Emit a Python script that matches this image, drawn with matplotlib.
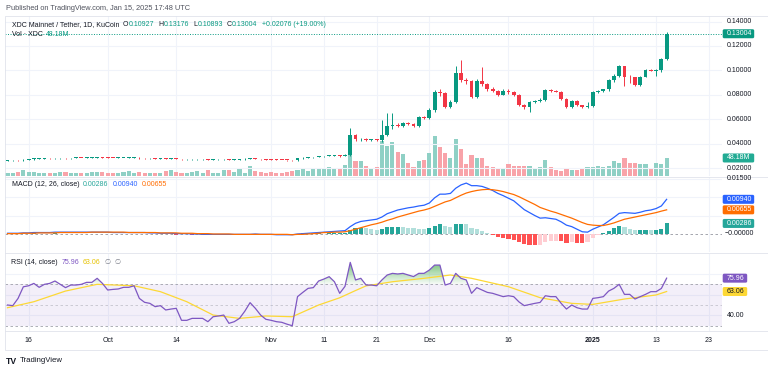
import numpy as np
import pandas as pd
import matplotlib
matplotlib.use('Agg')
import matplotlib.pyplot as plt
from matplotlib.colors import LinearSegmentedColormap
from matplotlib.path import Path
from matplotlib.patches import FancyBboxPatch, Rectangle
from matplotlib.transforms import IdentityTransform

plt.rcParams['font.family'] = ['Liberation Sans', 'DejaVu Sans']

# ---------------- data ----------------
dates = pd.date_range('2024-09-12', '2025-01-15', freq='D')

open_ = [.0261, .0262, .0264, .0263, .0268, .0272, .0276, .0277, .0279, .0278,
         .0280, .0281, .0280, .0282, .0283, .0282, .0283, .0284, .0288, .0286,
         .0283, .0282, .0283, .0283, .0284, .0285, .0280, .0278, .0278, .0277,
         .0277, .0275, .0276, .0274, .0270, .0270, .0271, .0271, .0271, .0268,
         .0270, .0271, .0272, .0267, .0268, .0270, .0274, .0278, .0275, .0271,
         .0268, .0267, .0266, .0265, .0264, .0262, .0278, .0283, .0287, .0290,
         .0295, .0298, .0302, .0303, .0298,
         .0307, .0470, .0435, .0440, .0430, .0432, .0428, .0470, .0547, .0552,
         .0547, .0566, .0558, .0547, .0615, .0607, .0675, .0820, .0812, .0703,
         .0744, .0976, .0921, .0913, .0785, .0916, .0886, .0845, .0831, .0800,
         .0834, .0820, .0798, .0716, .0700, .0744, .0752, .0757, .0839, .0834,
         .0826, .0763, .0697, .0752, .0716, .0697, .0708, .0826, .0834, .0845,
         .0921, .0957, .1036, .0946, .0943, .0880, .0949, .1003, .0998, .1003,
         .10927]
high = [.0265, .0267, .0267, .0272, .0276, .0280, .0281, .0283, .0282, .0284,
        .0285, .0284, .0286, .0287, .0286, .0287, .0288, .0292, .0290, .0288,
        .0286, .0287, .0286, .0288, .0289, .0287, .0283, .0282, .0281, .0281,
        .0279, .0280, .0279, .0276, .0274, .0275, .0274, .0275, .0273, .0273,
        .0275, .0276, .0274, .0272, .0274, .0279, .0285, .0281, .0277, .0274,
        .0271, .0270, .0269, .0268, .0267, .0282, .0287, .0291, .0294, .0300,
        .0302, .0307, .0308, .0306, .0311,
        .0530, .0475, .0450, .0448, .0440, .0438, .0590, .0650, .0650, .0565,
        .0580, .0575, .0565, .0625, .0630, .0690, .0840, .0845, .0825, .0760,
        .1036, .1085, .0940, .0920, .0930, .1027, .0895, .0860, .0840, .0845,
        .0845, .0828, .0805, .0725, .0750, .0760, .0770, .0850, .0848, .0840,
        .0830, .0770, .0758, .0755, .0720, .0740, .0830, .0840, .0850, .0930,
        .0970, .1045, .1040, .0960, .0950, .0955, .1010, .1012, .1010, .1100,
        .13176]
low = [.0258, .0259, .0260, .0261, .0265, .0269, .0273, .0274, .0275, .0275,
       .0277, .0277, .0277, .0279, .0279, .0279, .0280, .0281, .0283, .0280,
       .0279, .0279, .0280, .0280, .0281, .0277, .0275, .0275, .0273, .0274,
       .0272, .0272, .0271, .0266, .0267, .0267, .0268, .0268, .0264, .0265,
       .0267, .0268, .0263, .0264, .0265, .0267, .0271, .0272, .0268, .0265,
       .0264, .0263, .0262, .0261, .0258, .0260, .0275, .0280, .0284, .0287,
       .0291, .0295, .0298, .0294, .0296,
       .0300, .0425, .0420, .0420, .0418, .0420, .0412, .0465, .0520, .0535,
       .0540, .0550, .0535, .0540, .0600, .0600, .0660, .0790, .0690, .0695,
       .0735, .0905, .0890, .0775, .0775, .0870, .0830, .0820, .0790, .0795,
       .0810, .0790, .0705, .0680, .0656, .0735, .0740, .0750, .0825, .0820,
       .0755, .0690, .0690, .0710, .0690, .0690, .0700, .0815, .0825, .0835,
       .0905, .0950, .0870, .0900, .0875, .0875, .0945, .0995, .0955, .0985,
       .10893]
close = [.0262, .0264, .0263, .0268, .0272, .0276, .0277, .0279, .0278, .0280,
         .0281, .0280, .0282, .0283, .0282, .0283, .0284, .0288, .0286, .0283,
         .0282, .0283, .0283, .0284, .0285, .0280, .0278, .0278, .0277, .0277,
         .0275, .0276, .0274, .0270, .0270, .0271, .0271, .0271, .0268, .0270,
         .0271, .0272, .0267, .0268, .0270, .0274, .0278, .0275, .0271, .0268,
         .0267, .0266, .0265, .0264, .0262, .0278, .0283, .0287, .0290, .0295,
         .0298, .0302, .0303, .0298, .0307,
         .0470, .0435, .0440, .0430, .0432, .0428, .0470, .0547, .0552, .0547,
         .0566, .0558, .0547, .0615, .0607, .0675, .0820, .0812, .0703, .0744,
         .0976, .0921, .0913, .0785, .0916, .0886, .0845, .0831, .0800, .0834,
         .0820, .0798, .0716, .0700, .0744, .0752, .0757, .0839, .0834, .0826,
         .0763, .0697, .0752, .0716, .0697, .0708, .0826, .0834, .0845, .0921,
         .0957, .1036, .0946, .0943, .0880, .0949, .1003, .0998, .1003, .10928,
         .13004]
volume_m = [9, 9, 10, 17, 11, 11, 9, 9, 9, 8,
            11, 11, 9, 9, 9, 9, 11, 11, 11, 8,
            8, 9, 11, 14, 9, 11, 8, 9, 9, 9,
            14, 16, 12, 9, 9, 11, 14, 9, 16, 9,
            9, 16, 16, 12, 22, 8, 28, 14, 11, 9,
            12, 9, 9, 11, 14, 16, 22, 14, 22, 22,
            22, 25, 19, 19, 30,
            56, 40, 40, 28, 22, 25, 94, 80, 90, 63,
            59, 35, 24, 41, 42, 61, 107, 78, 61, 49,
            99, 73, 33, 57, 47, 47, 28, 25, 22, 19,
            31, 26, 26, 28, 28, 19, 25, 42, 24, 16,
            14, 21, 16, 17, 19, 24, 25, 28, 24, 28,
            41, 35, 47, 35, 35, 31, 31, 19, 35, 33,
            48.18]
macd_line = [.0002, .0002, .0002, .0003, .0003, .0004, .0004, .0004, .0004, .0005,
             .0005, .0005, .0005, .0005, .0005, .0005, .0005, .0005, .0005, .0005,
             .0004, .0004, .0004, .0004, .0004, .0004, .0004, .0003, .0003, .0002,
             .0002, .0002, .0001, .0001, .0001, .0000, .0000, -.0001, -.0001, -.0001,
             -.0001, -.0001, -.0001, -.0001, -.0001, -.0001, -.0001, .0000, -.0001, -.0001,
             -.0001, -.0002, -.0002, -.0002, -.0002, .0000, .0001, .0002, .0003, .0004,
             .0005, .0006, .0007, .0008, .0009,
             .0020, .0029, .0034, .0036, .0038, .0040, .0046, .0055, .0060, .0065,
             .0068, .0071, .0073, .0076, .0078, .0084, .0098, .0108, .0108, .0110,
             .0124, .0133, .0138, .0131, .0131, .0129, .0124, .0118, .0110, .0104,
             .0097, .0090, .0078, .0066, .0058, .0050, .0043, .0044, .0042, .0040,
             .0033, .0024, .0020, .0013, .0006, .0005, .0013, .0019, .0025, .0035,
             .0045, .0056, .0058, .0057, .0056, .0059, .0063, .0065, .0069, .0076,
             .0094]
signal_line = [.0001, .0001, .0001, .0002, .0002, .0002, .0003, .0003, .0003, .0003,
               .0004, .0004, .0004, .0004, .0004, .0004, .0005, .0005, .0005, .0005,
               .0005, .0005, .0005, .0004, .0004, .0004, .0004, .0004, .0004, .0003,
               .0003, .0003, .0003, .0002, .0002, .0002, .0001, .0001, .0001, .0000,
               .0000, .0000, .0000, -.0001, -.0001, -.0001, -.0001, -.0001, -.0001, -.0001,
               -.0001, -.0001, -.0001, -.0001, -.0002, -.0001, -.0001, .0000, .0001, .0002,
               .0004, .0004, .0005, .0005, .0006,
               .0009, .0013, .0017, .0021, .0025, .0028, .0032, .0037, .0041, .0046,
               .0050, .0054, .0058, .0062, .0065, .0069, .0075, .0081, .0087, .0091,
               .0098, .0105, .0111, .0115, .0118, .0120, .0121, .0120, .0118, .0115,
               .0111, .0107, .0101, .0094, .0087, .0080, .0072, .0067, .0062, .0058,
               .0053, .0048, .0043, .0037, .0031, .0026, .0024, .0023, .0023, .0026,
               .0030, .0035, .0040, .0043, .0046, .0049, .0052, .0055, .0058, .0062,
               .00655]
macd_hist = [.0001, .0001, .0001, .0001, .0001, .0002, .0001, .0001, .0001, .0002,
             .0001, .0001, .0001, .0001, .0001, .0001, .0000, .0000, .0000, .0000,
             -.0001, -.0001, -.0001, .0000, .0000, .0000, .0000, -.0001, -.0001, -.0001,
             -.0001, -.0001, -.0002, -.0001, -.0001, -.0002, -.0001, -.0002, -.0002, -.0001,
             -.0001, -.0001, -.0001, .0000, .0000, .0000, .0000, .0001, .0000, .0000,
             .0000, -.0001, -.0001, -.0001, .0000, .0001, .0002, .0002, .0002, .0002,
             .0001, .0002, .0002, .0003, .0003,
             .0011, .0016, .0017, .0015, .0013, .0012, .0014, .0018, .0019, .0019,
             .0018, .0017, .0015, .0014, .0013, .0015, .0023, .0027, .0021, .0019,
             .0026, .0028, .0027, .0016, .0013, .0009, .0003, -.0002, -.0008, -.0011,
             -.0014, -.0017, -.0023, -.0028, -.0029, -.0030, -.0029, -.0023, -.0020, -.0018,
             -.0020, -.0024, -.0023, -.0024, -.0025, -.0021, -.0011, -.0004, .0002, .0009,
             .0015, .0021, .0018, .0014, .0010, .0010, .0011, .0010, .0011, .0014,
             .00286]
rsi = [50.0, 49.4, 56.4, 67.6, 68.6, 70.9, 67.1, 70.0, 70.9, 73.2,
       70.0, 66.8, 69.3, 69.3, 70.0, 71.9, 71.9, 75.8, 70.9, 64.5,
       65.1, 65.5, 67.1, 67.1, 68.6, 56.4, 52.6, 51.6, 48.4, 49.4,
       45.2, 46.1, 46.8, 35.2, 35.2, 37.1, 37.1, 37.1, 33.9, 38.7,
       39.4, 40.3, 32.3, 33.9, 37.1, 44.0, 52.3, 46.8, 40.3, 36.2,
       35.2, 33.9, 33.3, 31.5, 30.0, 58.1, 62.2, 66.1, 66.8, 73.2,
       75.1, 77.4, 72.5, 61.3, 68.0,
       91.2, 74.2, 75.8, 69.3, 69.3, 68.6, 74.2, 79.0, 80.6, 80.0,
       80.6, 79.0, 77.5, 80.6, 80.6, 83.8, 88.6, 88.6, 69.3, 70.9,
       80.6, 75.8, 74.2, 61.3, 66.8, 64.5, 62.2, 61.3, 59.7, 58.1,
       59.0, 58.1, 53.0, 49.4, 50.5, 51.6, 52.5, 59.0, 58.1, 58.1,
       51.6, 46.1, 50.0, 47.4, 46.1, 46.1, 56.4, 57.1, 58.1, 63.5,
       66.1, 70.0, 60.3, 60.3, 55.8, 58.1, 60.3, 62.9, 62.9, 66.0,
       75.96]
rsi_ma_day = [0, 5, 11, 17, 24, 29, 34, 39, 44, 49, 54, 59, 63, 66, 68, 73,
              79, 84, 88, 95, 101, 107, 111, 117, 123, 125]
rsi_ma = [47.4, 53.2, 63.5, 70.0, 68.6, 62.9, 53.2, 40.3, 37.1, 39.4, 38.7, 50.0,
          57.0, 64.0, 68.5, 72.5, 75.8, 79.0, 75.8, 67.7, 57.1, 51.6, 50.6, 55.8,
          59.7, 63.06]

tick_days = [4, 19, 32, 50, 60, 70, 80, 95, 111, 123, 133]
tick_labels = ['16', 'Oct', '14', 'Nov', '11', '21', 'Dec', '16', '2025', '13', '23']
price_ticks = [0.02, 0.04, 0.06, 0.08, 0.10, 0.12, 0.14]

# ---------------- layout ----------------
W, H = 768, 371
FS = 5.0
DARK = '#131722'
UP, DN = '#089981', '#f23645'
GRID = '#f0f3fa'

fig = plt.figure(figsize=(W / 100, H / 100), dpi=100)
fig.patch.set_facecolor('white')


def rect(x0, y0, x1, y1):
    return [x0 / W, 1 - y1 / H, (x1 - x0) / W, (y1 - y0) / H]


XL = (-0.476, 135.5)
ax_v = fig.add_axes(rect(5, 16, 722, 176))
ax_p = fig.add_axes(rect(5, 16, 722, 176), sharex=ax_v)
ax_m = fig.add_axes(rect(5, 177, 722, 252), sharex=ax_v)
ax_r = fig.add_axes(rect(5, 254, 722, 331), sharex=ax_v)
ax_p.patch.set_visible(False)

for a in (ax_v, ax_p, ax_m, ax_r):
    for s in a.spines.values():
        s.set_visible(False)
    a.tick_params(left=False, right=False, bottom=False, top=False,
                  labelleft=False, labelright=False, labelbottom=False)
    a.set_xlim(*XL)

ax_p.set_ylim(0.013443, 0.14459)
ax_v.set_ylim(0, 428e6)
ax_m.set_ylim(-0.00488, 0.01545)
ax_r.set_ylim(24.9, 99.3)

x = np.arange(len(dates))
o = np.array(open_); hi = np.array(high); lo = np.array(low); c = np.array(close)
up = c >= o

# grids
for a in (ax_v, ax_m, ax_r):
    for d in tick_days:
        a.axvline(d, color=GRID, lw=0.8, zorder=0)
for p in price_ticks:
    ax_p.axhline(p, color=GRID, lw=0.8, zorder=0)
for v in (0.005, 0.01, 0.015):
    ax_m.axhline(v, color=GRID, lw=0.8, zorder=0)
for v in (40, 60, 80):
    ax_r.axhline(v, color=GRID, lw=0.8, zorder=0)

# volume
vcol = ['#8fd0c5' if u else '#f8a3a9' for u in up]
ax_v.bar(x, np.array(volume_m) * 1e6, width=0.78, color=vcol, lw=0, zorder=2)

# candles
ccol = [UP if u else DN for u in up]
ax_p.vlines(x, lo, hi, colors=ccol, lw=0.7, zorder=3)
body_lo = np.minimum(o, c)
body_h = np.maximum(np.abs(c - o), 0.0006)
ax_p.bar(x, body_h, bottom=body_lo, width=0.72, color=ccol, lw=0, zorder=4)
ax_p.axhline(close[-1], color=UP, lw=0.7, ls=(0, (1, 1.6)), zorder=5)

# MACD
hist = np.array(macd_hist)
hcol = []
for i, h in enumerate(hist):
    prev = hist[i - 1] if i > 0 else 0
    if h >= 0:
        hcol.append('#26a69a' if h >= prev else '#b2dfdb')
    else:
        hcol.append('#ff5252' if h < prev else '#ffcdd2')
ax_m.bar(x, hist, width=0.78, color=hcol, lw=0, zorder=2)
ax_m.axhline(0, color='#9598a1', lw=0.6, ls=(0, (3, 3)), zorder=1)
ax_m.plot(x, macd_line, color='#2962ff', lw=0.9, zorder=3)
ax_m.plot(x, signal_line, color='#ff6d00', lw=0.9, zorder=3)

# RSI
r = np.array(rsi)
ax_r.axhspan(30, 70, color='#7e57c2', alpha=0.09, lw=0, zorder=1)
for lvl, al in ((70, 0.9), (50, 0.5), (30, 0.9)):
    ax_r.axhline(lvl, color='#9598a1', lw=0.6, ls=(0, (3, 3)), alpha=al, zorder=2)
pc = ax_r.fill_between(x, r, 70, where=r >= 70, interpolate=True, color='none', lw=0)
cp = Path.make_compound_path(*pc.get_paths())
cm_g = LinearSegmentedColormap.from_list('g', [(0.30, 0.69, 0.31, 0.05), (0.30, 0.69, 0.31, 0.9)])
grad = np.linspace(0, 1, 256).reshape(-1, 1)
im = ax_r.imshow(grad, extent=[XL[0], XL[1], 70, 95], origin='lower', aspect='auto',
                 cmap=cm_g, zorder=2, interpolation='bilinear')
im.set_clip_path(cp, transform=ax_r.transData)
ax_r.plot(x, r, color='#7e57c2', lw=0.9, zorder=4)
ax_r.plot(rsi_ma_day, rsi_ma, color='#fdd835', lw=0.9, zorder=3)
ax_r.set_xlim(*XL)
ax_r.set_ylim(24.9, 99.3)


# ---------------- texts ----------------
def ptext(xp, yp, s, **kw):
    kw.setdefault('fontsize', FS)
    kw.setdefault('va', 'center')
    kw.setdefault('ha', 'left')
    kw.setdefault('color', DARK)
    return fig.text(xp / W, 1 - yp / H, s, **kw)


def vy(ax, v):
    return H - ax.transData.transform((0, v))[1]


def box(ax, v, label, fc, tc='white', w=31.5):
    yt = vy(ax, v)
    fig.patches.append(FancyBboxPatch((722.7, H - yt - 4.5), w, 9,
                                      boxstyle='round,pad=0,rounding_size=1.5',
                                      transform=IdentityTransform(), fc=fc, ec='none',
                                      figure=fig, zorder=2))
    ptext(726.5, yt, label, color=tc, zorder=3)


renderer = fig.canvas.get_renderer()


def chain(xp, yp, parts, fs=FS):
    for s, col, gap in parts:
        t = ptext(xp, yp, s, color=col, fontsize=fs)
        xp += t.get_window_extent(renderer=renderer).width + gap


# right axes labels (those hidden under value boxes are omitted)
for p in price_ticks:
    ptext(727, vy(ax_p, p), f'{p:.5f}', color=DARK)
ptext(727, vy(ax_m, 0.015), '0.01500')
ptext(725, vy(ax_m, 0.0), '\u22120.00000')
ptext(727, vy(ax_r, 40), '40.00')

prev_close = close[-2]
chg = close[-1] - prev_close

box(ax_p, close[-1], f'{close[-1]:.5f}', UP)
box(ax_v, volume_m[-1] * 1e6, f'{volume_m[-1]:.2f}M', '#22ab94')
box(ax_m, macd_line[-1], f'{macd_line[-1]:.5f}', '#2962ff')
box(ax_m, signal_line[-1], f'{signal_line[-1]:.5f}', '#ff6d00')
box(ax_m, macd_hist[-1], f'{macd_hist[-1]:.5f}', '#26a69a')
box(ax_r, rsi[-1], f'{rsi[-1]:.2f}', '#7e57c2', w=24.5)
box(ax_r, rsi_ma[-1], f'{rsi_ma[-1]:.2f}', '#fdd835', tc=DARK, w=24.5)

# time axis labels
for d, lab in zip(tick_days, tick_labels):
    xp = ax_r.transData.transform((d, 0))[0]
    ptext(xp, 341, lab, ha='center', fontweight='bold' if lab == '2025' else 'normal')

# header & legends
ptext(6, 9, 'Published on TradingView.com, Jan 15, 2025 17:48 UTC', color='#50535e', fontsize=5.3)
chain(11.5, 25, [('XDC Mainnet / Tether, 1D, KuCoin', DARK, 4),
                 ('O', DARK, 0.3), (f'{open_[-1]:.5f}', UP, 4),
                 ('H', DARK, 0.3), (f'{high[-1]:.5f}', UP, 4),
                 ('L', DARK, 0.3), (f'{low[-1]:.5f}', UP, 4),
                 ('C', DARK, 0.3), (f'{close[-1]:.5f}', UP, 4),
                 (f'+{chg:.5f} (+{chg / prev_close * 100:.2f}%)', UP, 0)])
chain(11.5, 35, [('Vol \u00b7 XDC', DARK, 4), (f'{volume_m[-1]:.2f}M', UP, 0)])
chain(11.5, 185, [('MACD (12, 26, close)', DARK, 4), (f'{macd_hist[-1]:.5f}', '#26a69a', 4),
                  (f'{macd_line[-1]:.5f}', '#2962ff', 4), (f'{signal_line[-1]:.5f}', '#ff6d00', 0)])
chain(10.7, 263, [('RSI (14, close)', DARK, 4), (f'{rsi[-1]:.2f}', '#7e57c2', 4),
                  (f'{rsi_ma[-1]:.2f}', '#e6c200', 4), ('\u2205', '#787b86', 4), ('\u2205', '#787b86', 0)])

# frame and separators
for yy in (176.5, 253, 331):
    fig.add_artist(plt.Line2D([5 / W, 1], [1 - yy / H] * 2, color='#e0e3eb', lw=0.6))
fig.patches.append(Rectangle((5, H - 350), 762.5, 334, transform=IdentityTransform(),
                             fill=False, ec='#e0e3eb', lw=0.6, figure=fig))

# logo
ptext(6, 361, 'TV', fontsize=6.2, fontweight='bold')
ptext(19.5, 361, 'TradingView', fontsize=5.6, color='#131722')

fig.savefig('out.png', dpi=100, facecolor='white')
